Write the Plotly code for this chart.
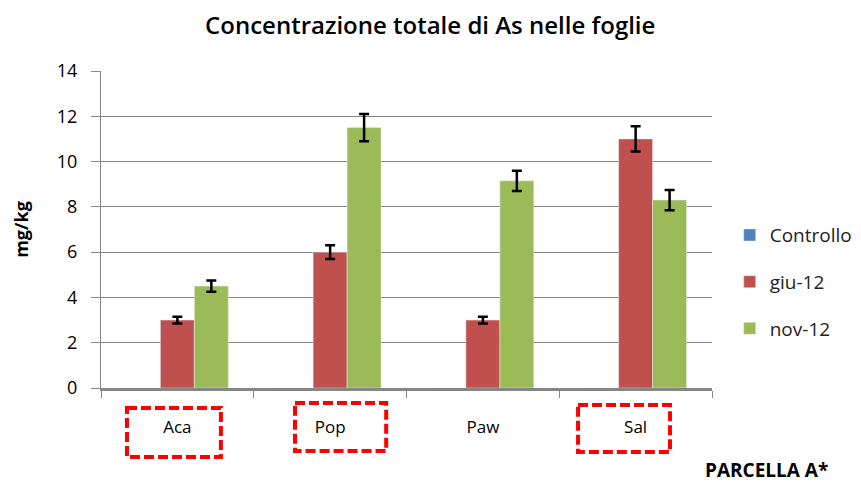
import plotly.graph_objects as go

categories = ["Aca", "Pop", "Paw", "Sal"]
series_names = ["Controllo", "giu-12", "nov-12"]
controllo = [0, 0, 0, 0]
giu12 = [3.0, 6.0, 3.0, 11.0]
giu12_err = [0.15, 0.3, 0.15, 0.56]
nov12 = [4.5, 11.5, 9.15, 8.3]
nov12_err = [0.25, 0.6, 0.45, 0.45]
y_ticks = [0, 2, 4, 6, 8, 10, 12, 14]
boxed = ["Aca", "Pop", "Sal"]

colors = ["#4F81BD", "#C0504D", "#9BBB59"]
FONT = "Open Sans, sans-serif"

fig = go.Figure()
fig.add_trace(go.Bar(x=categories, y=controllo, name=series_names[0],
                     marker_color=colors[0], legendgroup="a"))
fig.add_trace(go.Bar(x=categories, y=giu12, name=series_names[1],
                     marker_color=colors[1], legendgroup="b",
                     error_y=dict(type="data", array=giu12_err, color="black",
                                  thickness=2.5, width=5)))
fig.add_trace(go.Bar(x=categories, y=nov12, name=series_names[2],
                     marker_color=colors[2], legendgroup="c",
                     error_y=dict(type="data", array=nov12_err, color="black",
                                  thickness=2.5, width=5)))

# dashed boxes around some category labels
box_offsets = {"Aca": (-0.33, 0.285, -0.063, -0.218),
               "Pop": (-0.23, 0.367, -0.047, -0.199),
               "Sal": (-0.377, 0.225, -0.054, -0.202)}
for c in boxed:
    i = categories.index(c)
    x0, x1, y0, y1 = box_offsets[c]
    fig.add_shape(type="rect", xref="x", yref="paper",
                  x0=i + x0, x1=i + x1, y0=y0, y1=y1,
                  line=dict(color="#FF0000", width=4, dash="10px,4px"))

fig.add_annotation(text="<b>PARCELLA A*</b>", xref="paper", yref="paper",
                   x=1.090, y=-0.259, xanchor="center", yanchor="middle",
                   showarrow=False, font=dict(size=19, color="black", family=FONT))

fig.update_layout(
    width=853, height=475,
    margin=dict(l=93, r=149, t=63, b=95, autoexpand=False),
    paper_bgcolor="white", plot_bgcolor="white",
    barmode="group", bargap=0.333, bargroupgap=0,
    title=dict(text="Concentrazione totale di As nelle foglie",
               xref="container", x=0.495,
               xanchor="center", y=0.962, yanchor="middle",
               font=dict(size=24, color="black", family=FONT, weight=600)),
    font=dict(family=FONT, size=17, color="black"),
    legend=dict(x=1.029, y=0.334, xanchor="left", yanchor="middle",
                font=dict(size=19, color="#222222"), tracegroupgap=19,
                bgcolor="rgba(0,0,0,0)"),
    showlegend=True,
)
fig.update_xaxes(showline=True, linecolor="#868686", linewidth=2.5,
                 ticks="outside", tickson="boundaries", ticklen=7,
                 tickcolor="#868686", showgrid=False,
                 ticklabelstandoff=22, tickfont=dict(size=17, color="black"))
fig.update_yaxes(range=[0, 14], tickvals=y_ticks, showline=True,
                 linecolor="#868686", linewidth=1, ticks="outside", ticklen=9,
                 tickcolor="#868686", showgrid=True, gridcolor="#868686",
                 gridwidth=1, zeroline=False, ticklabelstandoff=10,
                 title=dict(text="<b>mg/kg</b>", standoff=23,
                            font=dict(size=18, color="black")),
                 tickfont=dict(size=18, color="black"))

fig.write_html("out.html")
